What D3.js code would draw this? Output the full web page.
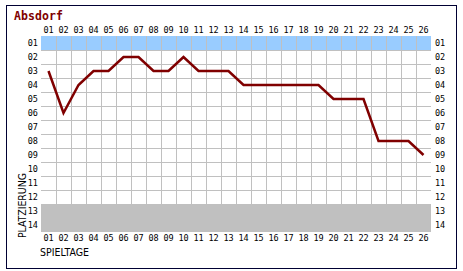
<!DOCTYPE html>
<html><head><meta charset="utf-8">
<script src="https://cdn.jsdelivr.net/npm/d3@7"></script>
<style>body{margin:0;background:#fff}svg{display:block}</style>
</head><body>
<svg id="c" width="463" height="271"></svg>
<script>
const title = "Absdorf";
const spieltage = d3.range(1, 27);
const platz = [3,6,4,3,3,2,2,3,3,2,3,3,3,4,4,4,4,4,4,5,5,5,8,8,8,9];
const rankLabels = d3.range(1, 15);
const blueRanks = [1];
const grayRanks = [13, 14];
const xTitle = "SPIELTAGE";
const yTitle = "PLATZIERUNG";

const fmt = d => String(d).padStart(2, "0");
const svg = d3.select("#c");
const L = 41, T = 36, W = 390, H = 196;
const x = d3.scaleBand().domain(spieltage).range([L, L + W]);
const y = d3.scaleBand().domain(rankLabels).range([T, T + H]);
const mono = "'DejaVu Sans Mono', monospace";

svg.append("rect").attr("x", 6.5).attr("y", 5.5).attr("width", 450).attr("height", 263)
  .attr("fill", "#fff").attr("stroke", "#000033").attr("stroke-width", 1);

svg.append("text").attr("x", 14).attr("y", 20).text(title)
  .attr("font-family", mono).attr("font-weight", "bold").attr("font-size", 11.5)
  .attr("fill", "#800000").attr("textLength", 49);

// bands
svg.selectAll("rect.blue").data(blueRanks).join("rect").attr("class", "blue")
  .attr("x", L).attr("width", W).attr("y", d => y(d)).attr("height", y.bandwidth()).attr("fill", "#99ccff");
svg.selectAll("rect.gray").data(grayRanks).join("rect").attr("class", "gray")
  .attr("x", L).attr("width", W).attr("y", d => y(d)).attr("height", y.bandwidth()).attr("fill", "#c0c0c0");

// grid
const g = svg.append("g").attr("stroke", "#c0c0c0").attr("stroke-width", 1).attr("shape-rendering", "crispEdges");
g.selectAll("line.v").data(spieltage.slice(1)).join("line")
  .attr("x1", d => x(d) + 0.5).attr("x2", d => x(d) + 0.5).attr("y1", T).attr("y2", T + H);
g.selectAll("line.h").data(rankLabels.slice(1)).join("line")
  .attr("y1", d => y(d) + 0.5).attr("y2", d => y(d) + 0.5).attr("x1", L).attr("x2", L + W);

// line
const line = d3.line().x((d, i) => x(spieltage[i]) + x.bandwidth() / 2).y(d => y(d) + y.bandwidth() / 2);
svg.append("path").datum(platz).attr("d", line).attr("fill", "none")
  .attr("stroke", "#800000").attr("stroke-width", 2.5).attr("stroke-linejoin", "miter");

const lab = { "font-family": mono, "font-size": 8.5, "fill": "#000" };
function style(sel) { for (const k in lab) sel.attr(k, lab[k]); return sel; }

style(svg.selectAll("text.xt").data(spieltage).join("text").attr("class", "xt")
  .attr("x", d => x(d) + x.bandwidth() / 2).attr("y", 33).attr("text-anchor", "middle").text(fmt));
style(svg.selectAll("text.xb").data(spieltage).join("text").attr("class", "xb")
  .attr("x", d => x(d) + x.bandwidth() / 2).attr("y", 241).attr("text-anchor", "middle").text(fmt));
style(svg.selectAll("text.yl").data(rankLabels).join("text").attr("class", "yl")
  .attr("x", 38).attr("y", d => y(d) + y.bandwidth() / 2 + 3).attr("text-anchor", "end").text(fmt));
style(svg.selectAll("text.yr").data(rankLabels).join("text").attr("class", "yr")
  .attr("x", 435).attr("y", d => y(d) + y.bandwidth() / 2 + 3).attr("text-anchor", "start").text(fmt));

style(svg.append("text").attr("x", 40).attr("y", 256).text(xTitle))
  .attr("font-family", "'DejaVu Sans Condensed', 'DejaVu Sans', sans-serif").attr("font-size", 10.5).attr("textLength", 49);
style(svg.append("text").attr("transform", "translate(26,238) rotate(-90)").text(yTitle))
  .attr("font-family", "'DejaVu Sans Condensed', 'DejaVu Sans', sans-serif").attr("font-size", 10.5).attr("textLength", 65);
</script>
</body></html>
